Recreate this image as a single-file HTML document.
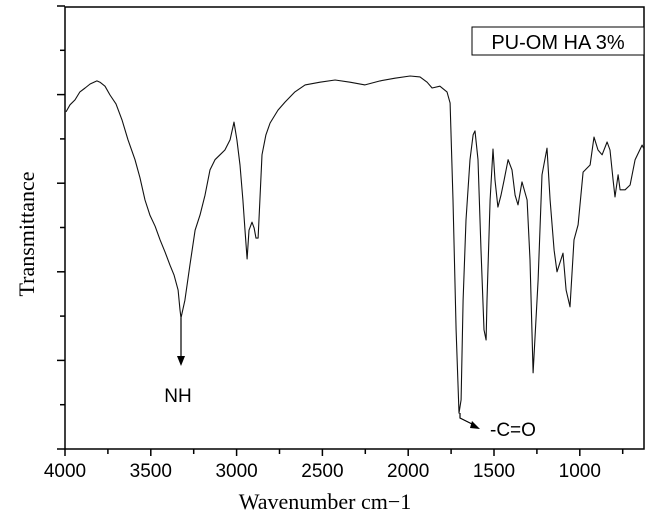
<!DOCTYPE html>
<html><head><meta charset="utf-8"><style>
body{margin:0;background:#fff;}
svg{display:block;font-family:"Liberation Sans",Arial,sans-serif;}
</style></head><body>
<svg id="chart" width="650" height="525" viewBox="0 0 650 525" xmlns="http://www.w3.org/2000/svg">
<rect x="65" y="7" width="579" height="442" fill="none" stroke="#000" stroke-width="1.5"/>
<g id="xticks"></g>
<g id="yticks"></g>
<path id="curve" fill="none" stroke="#111" stroke-width="1.1" stroke-linejoin="round"/>
<text x="325" y="509" font-family="Liberation Serif,serif" font-size="22" text-anchor="middle">Wavenumber cm−1</text>
<text transform="translate(34,234) rotate(-90)" font-family="Liberation Serif,serif" font-size="22" text-anchor="middle">Transmittance</text>
<rect x="472" y="27" width="172" height="28" fill="#fff" stroke="#000" stroke-width="1"/>
<text x="558" y="49" font-size="20" text-anchor="middle">PU-OM HA 3%</text>
<line x1="181" y1="318" x2="181" y2="358" stroke="#000" stroke-width="1.2"/>
<polygon points="177,356 185,356 181,366" fill="#000"/>
<text x="178" y="402" font-size="19" text-anchor="middle">NH</text>
<polyline points="460,413 460,418 474,425" fill="none" stroke="#000" stroke-width="1.2"/>
<polygon points="472,421 480,429 470,428" fill="#000"/>
<text x="490" y="436" font-size="19">-C=O</text>
</svg>
<script>
const wavenumbers=[3994,3971,3942,3913,3883,3854,3814,3796,3767,3738,3703,3668,3633,3592,3563,3534,3505,3475,3446,3417,3388,3365,3341,3330,3324,3301,3272,3242,3213,3184,3155,3126,3097,3068,3038,3015,2998,2980,2963,2951,2939,2928,2910,2898,2887,2875,2864,2852,2829,2805,2759,2718,2660,2601,2514,2426,2339,2252,2164,2077,1989,1931,1890,1861,1815,1774,1756,1739,1721,1704,1692,1680,1663,1640,1622,1611,1593,1576,1558,1546,1541,1523,1506,1494,1477,1459,1441,1418,1395,1377,1360,1337,1307,1290,1272,1243,1220,1191,1173,1150,1133,1098,1080,1057,1034,1010,981,958,940,917,894,870,841,824,806,795,777,765,736,707,678,637,628];
const transmittance=[76.1,77.7,78.8,80.6,81.5,82.4,83.1,82.8,81.9,79.9,77.9,74.3,69.8,65.3,61.2,56.2,52.8,50.3,47.2,44.5,41.5,39.3,35.9,31.4,29.6,33.6,41.5,49.4,52.8,57.3,63.0,65.3,66.4,67.5,69.8,73.8,69.8,64.1,56.2,49.4,42.9,49.4,51.2,49.9,47.6,47.6,56.2,66.4,70.9,73.6,76.5,78.3,80.6,82.2,82.8,83.3,82.8,82.2,83.1,83.7,84.2,84.0,82.8,81.5,81.9,80.6,78.1,56.2,26.9,8.1,11.1,33.6,51.7,65.3,70.9,71.8,65.3,44.9,26.9,24.6,33.6,56.2,67.7,60.7,54.6,57.3,60.7,65.3,63.0,57.3,55.1,60.3,56.2,42.7,17.2,38.1,61.9,67.9,56.2,44.9,40.0,44.2,35.9,32.1,47.2,50.6,62.5,63.4,64.1,70.4,67.5,66.4,69.3,67.5,60.7,56.9,61.9,58.5,58.5,59.6,65.3,68.6,67.9];
const xTickLabels=[4000,3500,3000,2500,2000,1500,1000];
const yTickCount=[0,1,2,3,4,5,6,7,8,9,10];
const NS='http://www.w3.org/2000/svg';
function xs(w){return 65+(4000-w)*0.1716;}
function ys(v){return 449-v*4.43;}
let d='';
for(let i=0;i<wavenumbers.length;i++){d+=(i?'L':'M')+xs(wavenumbers[i]).toFixed(1)+','+ys(transmittance[i]).toFixed(1);}
document.getElementById('curve').setAttribute('d',d);
const xg=document.getElementById('xticks');
for(let w=4000;w>=650;w-=250){
  const l=document.createElementNS(NS,'line');
  const x=xs(w),maj=(w%500===0);
  l.setAttribute('x1',x);l.setAttribute('x2',x);l.setAttribute('y1',449);l.setAttribute('y2',maj?456:454);
  l.setAttribute('stroke','#000');l.setAttribute('stroke-width','1.5');
  
  
  xg.appendChild(l);
}
xTickLabels.forEach(w=>{
  const t=document.createElementNS(NS,'text');
  t.setAttribute('x',xs(w));t.setAttribute('y',477);t.setAttribute('font-size','19');t.setAttribute('text-anchor','middle');
  t.textContent=w;
  
  
  xg.appendChild(t);
});
const yg=document.getElementById('yticks');
yTickCount.forEach(i=>{
  const y=449-i*44.3;
  const l=document.createElementNS(NS,'line');
  l.setAttribute('x1',65);l.setAttribute('x2',i%2===0?57:60);l.setAttribute('y1',y);l.setAttribute('y2',y);
  l.setAttribute('stroke','#000');l.setAttribute('stroke-width','1.5');
  
  
  yg.appendChild(l);
});
</script>
</body></html>
